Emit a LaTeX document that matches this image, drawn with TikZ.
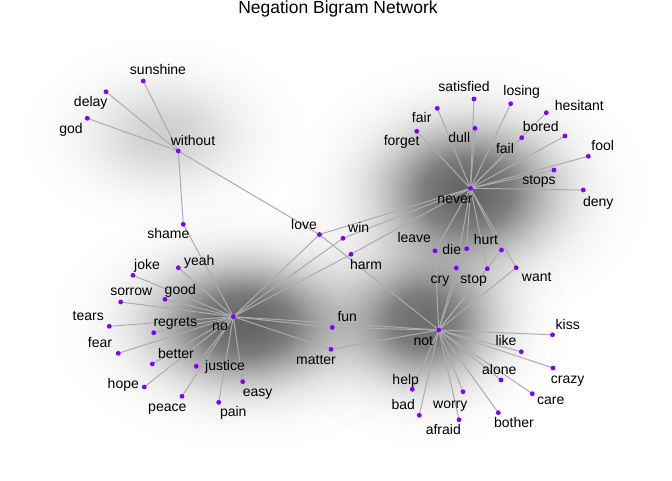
\documentclass[tikz,border=0pt]{standalone}
\usepackage{fontspec}
\setmainfont{Liberation Sans}
\definecolor{dotc}{RGB}{127,0,255}
\definecolor{edgec}{RGB}{172,172,172}
\tikzset{
  dotnode/.style={circle, fill=dotc, draw=none, inner sep=0pt, minimum size=4.8pt},
  lbl/.style={font=\fontsize{14}{16}\selectfont, inner sep=0pt, text height=10pt, text depth=3pt},
  link/.style={draw=edgec, line width=1pt},
}
% soft glow: centre x, centre y, radius x, radius y, centre darkness (0..1), layers
\newcommand\glowat[6]{%
  \pgfmathsetmacro\glowalpha{1-exp(ln(1-#5)/#6)}%
  \foreach \k in {1,...,#6}{%
    \pgfmathsetmacro\glowf{sqrt(-0.24*ln((\k-0.5)/#6))}%
    \fill[black, opacity=\glowalpha] (#1,#2) ellipse ({#3*\glowf} and {#4*\glowf});
  }}
\begin{document}
\begin{tikzpicture}[x=1pt,y=-1pt]
\useasboundingbox (0,0) rectangle (672,480);
\fill[white] (0,0) rectangle (672,480);
% glows
\glowat{165}{135}{145}{100}{0.17}{24}
\glowat{468}{192}{160}{122}{0.58}{90}
\glowat{425}{322}{130}{112}{0.5}{80}
\glowat{245}{324}{170}{112}{0.58}{90}
% node positions
\foreach \n/\x/\y in {
 without/178.3/151, sunshine/143.3/81, delay/106/91.7, god/87.3/118.3,
 shame/183.3/224.3, love/319.5/234.5, win/343/238.3, harm/351/254.3,
 never/470.5/188.3, forget/416.7/131.3, fair/437.3/108.3, satisfied/474/99,
 dull/475/128.3, losing/510.7/103.7, fail/521.7/137.7, hesitant/546.3/112.7,
 bored/565/136, fool/588.3/156.3, stops/554/170, deny/583.3/190,
 leave/435/250.8, die/466.7/248.7, hurt/501.5/250, cry/456.3/268,
 stop/487.3/268.7, want/516.2/267.7, not/438.7/330, kiss/552.5/334.8,
 like/521.3/351.7, crazy/553/368, alone/501/380, help/412.3/389.3,
 worry/463/391.7, care/532.3/393.7, bad/419.3/415.3, bother/498.3/412.7,
 afraid/459/419.7, fun/332.3/327.5, matter/331/349.3, no/233.3/316.7,
 yeah/178.3/267.7, joke/133/275.3, good/165/299.3, sorrow/120.7/302,
 tears/109.3/326.3, regrets/153.7/332.7, fear/118.3/353.3, better/152.3/364,
 justice/196.3/366.3, hope/144.3/387, easy/242.7/381.7, peace/182/396.3,
 pain/218.7/402.3}
 {\coordinate (\n) at (\x,\y);}
% edges
\foreach \a/\b in {
 without/sunshine, without/delay, without/god, without/shame, without/love,
 no/shame, no/yeah, no/joke, no/good, no/sorrow, no/tears, no/regrets, no/fear,
 no/better, no/hope, no/justice, no/peace, no/pain, no/easy, no/love, no/win,
 no/harm, no/fun, no/matter, no/not,
 never/forget, never/fair, never/satisfied, never/dull, never/losing, never/fail,
 never/hesitant, never/bored, never/fool, never/stops, never/deny, never/love,
 never/win, never/harm, never/leave, never/die, never/cry, never/hurt, never/stop,
 never/want,
 not/love, not/fun, not/matter, not/leave, not/die, not/cry, not/stop, not/hurt,
 not/want, not/kiss, not/like, not/crazy, not/alone, not/care, not/bother,
 not/worry, not/afraid, not/bad, not/help}
 {\draw[link] (\a) -- (\b);}
% dots
\foreach \n in {without, sunshine, delay, god, shame, love, win, harm, never,
 forget, fair, satisfied, dull, losing, fail, hesitant, bored, fool, stops, deny,
 leave, die, hurt, cry, stop, want, not, kiss, like, crazy, alone, help, worry,
 care, bad, bother, afraid, fun, matter, no, yeah, joke, good, sorrow, tears,
 regrets, fear, better, justice, hope, easy, peace, pain}
 {\node[dotnode] (\n-d) at (\n) {};}
% labels
\foreach \n/\x/\y in {
 without/193/142, sunshine/158/71, delay/90.7/103.3, god/71/129.5,
 shame/168.3/235, love/304/225.7, win/358.7/229.3, harm/366/266,
 never/455/200, forget/401.7/141.7, fair/421.7/119.3, satisfied/464/88,
 dull/459.3/139.3, losing/521.7/91.7, fail/505/150, hesitant/579.3/106.7,
 bored/540.7/128.3, fool/602.7/147.3, stops/539/181, deny/598.3/202.7,
 leave/414.3/239.3, die/451.7/251, hurt/486/241, cry/440/280,
 stop/473.7/280, want/536.7/278.3, not/423.3/341.7, kiss/567.7/325.7,
 like/506/342.3, crazy/567.7/380, alone/499.3/370.7, help/405.7/380.7,
 worry/450.3/404.7, care/550.7/401, bad/403.3/406, bother/514/424,
 afraid/443.3/430.7, fun/347.3/318.3, matter/316/360.7, no/220/326.7,
 yeah/199.3/262.3, joke/147/266, good/180.3/290.7, sorrow/131.3/292.3,
 tears/88.3/317.3, regrets/175.3/323.3, fear/100/344.3, better/176/355.3,
 justice/225/367.3, hope/123.3/384.7, easy/257.7/393.3, peace/167.3/408.3,
 pain/233.3/413.3}
 {\node[lbl] (\n-l) at (\x,\y) {\n};}
% title
\node[font=\fontsize{17.5}{20}\selectfont, anchor=base, inner sep=0pt] (title) at (338,13.5) {Negation Bigram Network};
\end{tikzpicture}
\end{document}
